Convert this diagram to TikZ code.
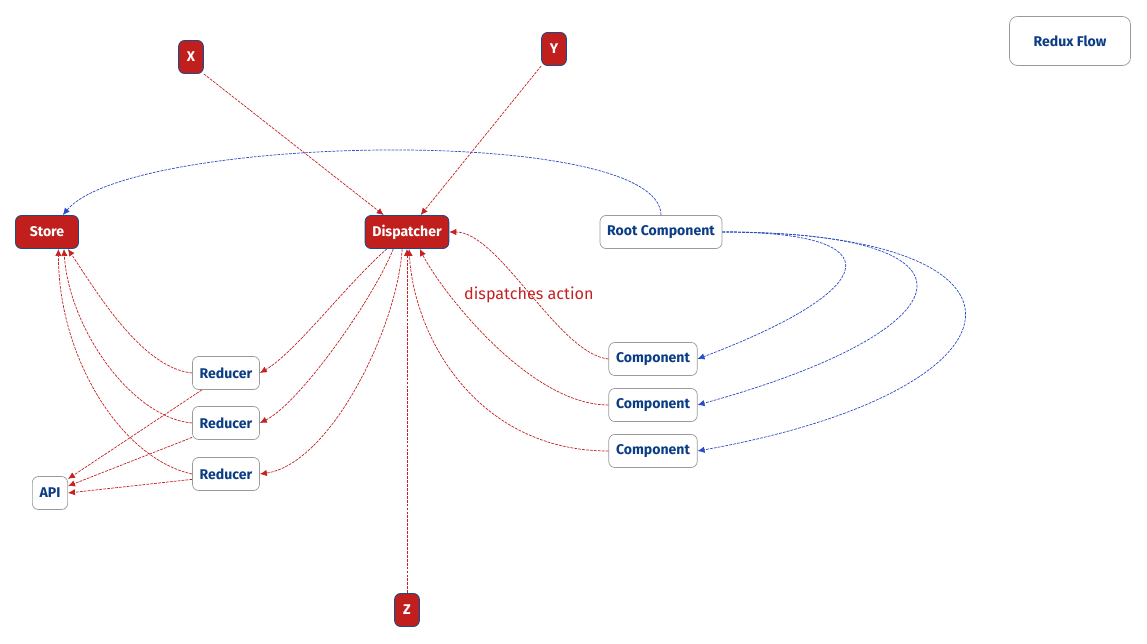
\documentclass[tikz,border=0pt]{standalone}
\usepackage{fontspec}
\setmainfont{Fira Sans}
\usepackage{tikz}
\usetikzlibrary{arrows.meta}
\definecolor{flowred}{HTML}{C01F1D}
\definecolor{flownavy}{HTML}{1B4B8A}
\definecolor{flowtext}{HTML}{0B3D85}
\definecolor{flowgray}{HTML}{9A9A9A}
\definecolor{flowblue}{HTML}{2A4CC4}
\definecolor{linered}{HTML}{C42222}

\begin{document}
\begin{tikzpicture}[x=0.025cm, y=-0.025cm,
  redbox/.style={draw=flownavy, fill=flowred, text=white, font=\bfseries\fontsize{10}{12}\selectfont,
    rounded corners=0.15cm, minimum height=0.825cm, minimum width=0.62cm, inner xsep=0.18cm, line width=0.6pt},
  whitebox/.style={draw=flowgray, fill=white, text=flowtext, font=\bfseries\fontsize{10}{12}\selectfont,
    rounded corners=0.15cm, minimum height=0.825cm, inner xsep=0.18cm, line width=0.5pt},
  redline/.style={draw=linered, dash pattern=on 2pt off 0.8pt, line width=0.5pt, -{Latex[length=5pt,width=4.5pt]}},
  blueline/.style={draw=flowblue, dash pattern=on 2pt off 0.8pt, line width=0.5pt, -{Latex[length=5pt,width=4.5pt]}}]
\useasboundingbox (0,0) rectangle (1147,644);

\node[whitebox, minimum width=3.025cm, minimum height=1.225cm, rounded corners=0.2cm] (title) at (1070,41) {Redux Flow};
\node[redbox] (x) at (191,57) {X};
\node[redbox] (y) at (554,49) {Y};
\node[redbox] (z) at (407,610) {Z};
\node[redbox, minimum width=1.575cm] (store) at (47,232) {Store};
\node[redbox] (disp) at (407,232) {Dispatcher};
\node[whitebox] (root) at (661,232) {Root Component};
\node[whitebox] (api) at (50,493) {API};
\foreach \i/\y in {1/373,2/423,3/474}
  \node[whitebox] (red\i) at (226,\y) {Reducer};
\foreach \i/\y in {1/359,2/405,3/451}
  \node[whitebox] (comp\i) at (653,\y) {Component};

\draw[redline] (x.south east) -- (disp.144);
\draw[redline] (y.south west) -- (disp.51);
\draw[redline] (z) -- (disp);

\draw[blueline] (root.north) .. controls +(0,-91) and +(68,-81) .. (store.47);
\foreach \i/\a/\b/\c in {1/177/182/-69, 2/277/272/-75, 3/337/342/-61}
  \draw[blueline] (root.east) .. controls +(\a,0) and +(\b,\c) .. (comp\i.east);

\foreach \i/\s/\a/\b/\c/\d in {1/220/-40/35/35/-20, 2/231/-20/50/40/-20, 3/254/-5/80/70/-10}
  \draw[redline] (disp.\s) .. controls +(\a,\b) and +(\c,\d) .. (red\i.east);
\foreach \i/\s/\a/\b/\c/\d in {1/321/-50/-5/30/45, 2/315/-60/-5/5/80, 3/304/-70/-15/0/110}
  \draw[redline] (red\i.west) .. controls +(\a,\b) and +(\c,\d) .. (store.\s);
\draw[redline] (red1.215) -- (api.38);
\draw[redline] (red2.203) -- (api.21);
\draw[redline] (red3.189) -- (api.east);

\draw[redline] (comp1.west) .. controls +(-50,-5) and +(50,0) .. node[pos=0.5, yshift=-1.2pt, text=linered, font=\fontsize{11.5}{13}\selectfont] {dispatches action} (disp.east);
\draw[redline] (comp2.west) .. controls +(-80,0) and +(20,40) .. (disp.307);
\draw[redline] (comp3.west) .. controls +(-130,0) and +(5,90) .. (disp.277);

\end{tikzpicture}
\end{document}
